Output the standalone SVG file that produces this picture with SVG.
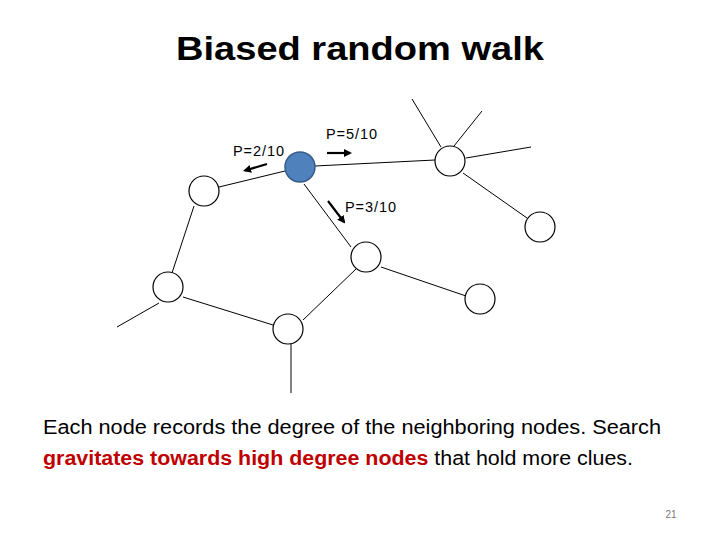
<svg xmlns="http://www.w3.org/2000/svg" width="720" height="540" viewBox="0 0 720 540">
<defs>
<marker id="ah" markerWidth="8" markerHeight="8" refX="6" refY="4" orient="auto" markerUnits="userSpaceOnUse">
<path d="M0,0 L8,4 L0,8 Z" fill="#000"/>
</marker>
<style>
.n{fill:#fff;stroke:#000;stroke-width:1.2}
.b{fill:#4f81bd;stroke:#385d8a;stroke-width:1.5}
.e{stroke:#000;stroke-width:1;fill:none}
.a{stroke:#000;stroke-width:2.2;fill:none;marker-end:url(#ah)}
.l{font-family:"Liberation Sans",Arial,sans-serif;font-size:14.5px;fill:#000}
.t{font-family:"Liberation Sans",Arial,sans-serif;font-size:20px;fill:#000}
</style>
</defs>
<rect width="720" height="540" fill="#fff"/>
<text x="360" y="60" text-anchor="middle" font-family="Liberation Sans,Arial,sans-serif" font-weight="bold" font-size="34" textLength="368" lengthAdjust="spacingAndGlyphs">Biased random walk</text>
<g id="connectors">
<line class="e" x1="285" y1="171" x2="219" y2="187"/>
<line class="e" x1="315" y1="166" x2="435" y2="160"/>
<line class="e" x1="304" y1="184" x2="351" y2="247"/>
<line class="e" x1="194" y1="206" x2="172" y2="273"/>
<line class="e" x1="183" y1="297" x2="273" y2="325"/>
<line class="e" x1="159" y1="303" x2="117" y2="327"/>
<line class="e" x1="303" y1="320" x2="356" y2="269"/>
<line class="e" x1="291" y1="344" x2="291" y2="393"/>
<line class="e" x1="381" y1="267" x2="466" y2="296"/>
<line class="e" x1="441" y1="147" x2="412" y2="99"/>
<line class="e" x1="454" y1="146" x2="482" y2="111"/>
<line class="e" x1="466" y1="158" x2="531" y2="147"/>
<line class="e" x1="463" y1="173" x2="527" y2="218"/>
<line class="a" x1="267" y1="164" x2="245" y2="170.5"/>
<line class="a" x1="327" y1="153" x2="350" y2="153"/>
<line class="a" x1="328" y1="201" x2="344" y2="222"/>
</g>
<g id="node-current"><circle class="b" cx="300" cy="167" r="15"/></g>
<g id="node-a"><circle class="n" cx="204" cy="191" r="15"/></g>
<g id="node-b"><circle class="n" cx="168" cy="287" r="15"/></g>
<g id="node-c"><circle class="n" cx="288" cy="329" r="15"/></g>
<g id="node-d"><circle class="n" cx="366" cy="257" r="15"/></g>
<g id="node-e"><circle class="n" cx="480" cy="299" r="15"/></g>
<g id="node-f"><circle class="n" cx="450" cy="161" r="15"/></g>
<g id="node-g"><circle class="n" cx="540" cy="227" r="15"/></g>
<g id="labels">
<text class="l" x="233" y="156" textLength="51" lengthAdjust="spacing">P=2/10</text>
<text class="l" x="326" y="139" textLength="51" lengthAdjust="spacing">P=5/10</text>
<text class="l" x="345" y="212" textLength="51" lengthAdjust="spacing">P=3/10</text>
</g>
<text class="t" x="43" y="434" textLength="618" lengthAdjust="spacingAndGlyphs">Each node records the degree of the neighboring nodes. Search</text>
<text class="t" x="43" y="465" textLength="590" lengthAdjust="spacingAndGlyphs"><tspan fill="#c00000" font-weight="bold">gravitates towards high degree nodes</tspan> that hold more clues.</text>
<text x="671" y="518" text-anchor="middle" font-family="Liberation Sans,Arial,sans-serif" font-size="10" fill="#777">21</text>
</svg>
